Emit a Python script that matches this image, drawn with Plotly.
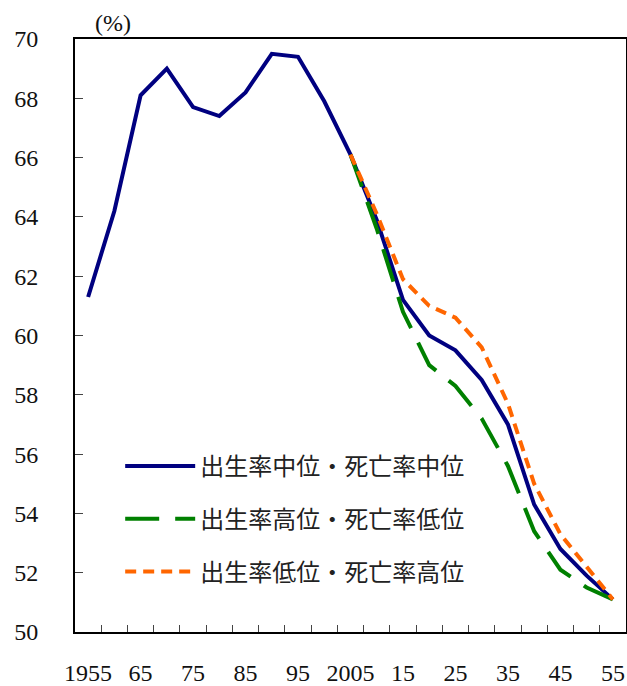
import plotly.graph_objects as go

# ---- data ----
years = list(range(1955, 2060, 5))
medium = [61.3, 64.2, 68.1, 69.0, 67.7, 67.4, 68.2, 69.5, 69.4, 67.9, 66.1,
          63.9, 61.2, 60.0, 59.5, 58.5, 57.0, 54.3, 52.8, 51.9, 51.1]
proj_years = list(range(2005, 2060, 5))
high_fert_low_mort = [66.1, 63.6, 60.8, 59.0, 58.3, 57.2, 55.6, 53.4, 52.1, 51.5, 51.1]
low_fert_high_mort = [66.1, 64.1, 61.9, 61.0, 60.6, 59.6, 57.7, 55.0, 53.3, 52.2, 51.1]
tick_years = list(range(1955, 2060, 10))
tick_labels = ["1955", "65", "75", "85", "95", "2005", "15", "25", "35", "45", "55"]
names = ["出生率中位・死亡率中位", "出生率高位・死亡率低位", "出生率低位・死亡率高位"]
y_ticks = list(range(50, 71, 2))

SERIF = "Liberation Serif, DejaVu Serif, serif"
JP = "Noto Sans CJK JP, sans-serif"

fig = go.Figure()
fig.add_trace(go.Scatter(x=years, y=medium, mode="lines", name=names[0],
                         legendgroup="a",
                         line=dict(color="#000080", width=4)))
fig.add_trace(go.Scatter(x=proj_years, y=high_fert_low_mort, mode="lines", name=names[1],
                         legendgroup="b",
                         line=dict(color="#008000", width=4, dash="34px,16px")))
fig.add_trace(go.Scatter(x=proj_years, y=low_fert_high_mort, mode="lines", name=names[2],
                         legendgroup="c",
                         line=dict(color="#FF6600", width=4, dash="11px,7px")))

boundaries = [y + 2.5 for y in years[:-1]]

fig.update_layout(
    width=627, height=686,
    margin=dict(l=75, r=1, t=39, b=54, autoexpand=False),
    paper_bgcolor="white", plot_bgcolor="white",
    showlegend=True,
    legend=dict(
        x=0.082, y=0.317, xanchor="left", yanchor="top",
        font=dict(family=JP, size=24, color="#222"),
        tracegroupgap=18.5, itemwidth=70,
        bgcolor="rgba(0,0,0,0)",
    ),
    xaxis=dict(
        range=[1952.5, 2057.5],
        tickmode="array", tickvals=tick_years, ticktext=tick_labels,
        ticks="", showgrid=False, zeroline=False,
        showline=True, linecolor="black", linewidth=2, mirror=True,
        tickfont=dict(family=SERIF, size=24, color="#111"),
        ticklabelstandoff=18,
        minor=dict(tickmode="array", tickvals=boundaries, ticks="inside",
                   ticklen=7, tickcolor="#444", tickwidth=1, showgrid=False),
    ),
    yaxis=dict(
        range=[50, 70], tickmode="array", tickvals=y_ticks,
        ticks="inside", ticklen=8, tickcolor="#444", tickwidth=1,
        showgrid=False, zeroline=False,
        showline=True, linecolor="black", linewidth=2, mirror=True,
        tickfont=dict(family=SERIF, size=24, color="#111"),
        ticklabelstandoff=30,
    ),
    annotations=[dict(text="(%)", xref="paper", yref="paper", x=0.069, y=1.027,
                      xanchor="center", yanchor="middle", showarrow=False,
                      font=dict(family=SERIF, size=24, color="#111"))],
)

fig.write_html("out.html", config={"displayModeBar": False},
               post_script="document.body.style.margin='0';")
